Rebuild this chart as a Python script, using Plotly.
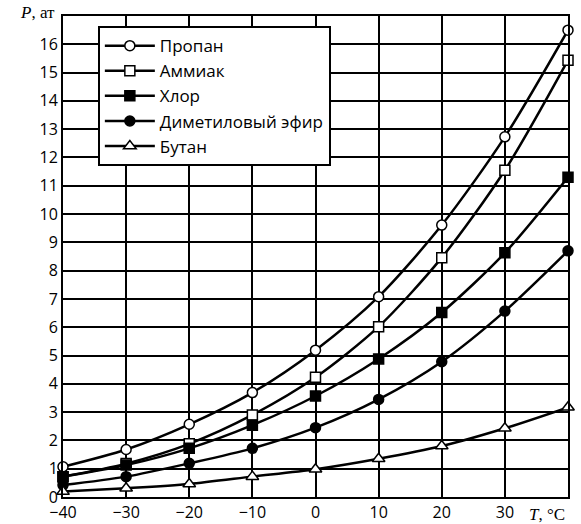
import plotly.graph_objects as go

T = [-40, -30, -20, -10, 0, 10, 20, 30, 40]
propane = [1.07, 1.68, 2.57, 3.69, 5.19, 7.08, 9.61, 12.73, 16.5]
ammonia = [0.72, 1.18, 1.88, 2.9, 4.23, 6.02, 8.46, 11.55, 15.44]
chlorine = [0.72, 1.13, 1.72, 2.54, 3.57, 4.88, 6.52, 8.63, 11.3]
dme = [0.42, 0.72, 1.19, 1.72, 2.45, 3.45, 4.78, 6.57, 8.7]
butane = [0.19, 0.31, 0.46, 0.72, 0.98, 1.35, 1.8, 2.43, 3.17]

names = ["Пропан", "Аммиак", "Хлор", "Диметиловый эфир", "Бутан"]
series = [propane, ammonia, chlorine, dme, butane]
symbols = ["circle", "square", "square", "circle", "triangle-up"]
fills = ["white", "white", "black", "black", "white"]
sizes = [10, 10, 10, 10, 11]

fig = go.Figure()
for name, vals, sym, fill, sz in zip(names, series, symbols, fills, sizes):
    fig.add_trace(go.Scatter(
        x=T, y=vals, name=name, mode="lines+markers",
        line=dict(color="black", width=2.5, shape="spline", smoothing=0.8),
        marker=dict(symbol=sym, size=sz, color=fill,
                    line=dict(color="black", width=1.5)),
        cliponaxis=False,
    ))

fig.update_layout(
    width=581, height=524,
    margin=dict(l=63, r=13, t=16, b=27),
    paper_bgcolor="white", plot_bgcolor="white",
    font=dict(family="Open Sans", size=15, color="black"),
    showlegend=True,
    legend=dict(x=0.069, y=0.979, xanchor="left", yanchor="top",
                bgcolor="white", bordercolor="black", borderwidth=2,
                font=dict(family="Open Sans", size=17, color="black"),
                itemwidth=50, tracegroupgap=0),
    xaxis=dict(range=[-40, 40], tickvals=[-40, -30, -20, -10, 0, 10, 20, 30],
               showgrid=True, gridcolor="black", gridwidth=1.5,
               showline=True, linecolor="black", linewidth=2, mirror=True,
               zeroline=False, ticks="", tickfont=dict(size=16), automargin=False),
    yaxis=dict(range=[0, 17], tickvals=list(range(0, 17)),
               showgrid=True, gridcolor="black", gridwidth=1.5,
               showline=True, linecolor="black", linewidth=2, mirror=True,
               zeroline=False, ticks="", tickfont=dict(size=16), automargin=False),
    annotations=[
        dict(text="<i>P</i>, ат", xref="paper", yref="paper", x=0, y=1,
             xanchor="right", yanchor="middle", xshift=-6, yshift=4, showarrow=False,
             font=dict(family="Liberation Serif", size=17, color="black")),
        dict(text="<i>T</i>, °C", xref="paper", yref="paper", x=0.919, y=0,
             xanchor="left", yanchor="middle", yshift=-17, showarrow=False,
             font=dict(family="Liberation Serif", size=17, color="black")),
    ],
)
fig.write_html("out.html", config={"displayModeBar": False},
               post_script="document.body.style.margin='0';document.body.style.overflow='hidden';")
